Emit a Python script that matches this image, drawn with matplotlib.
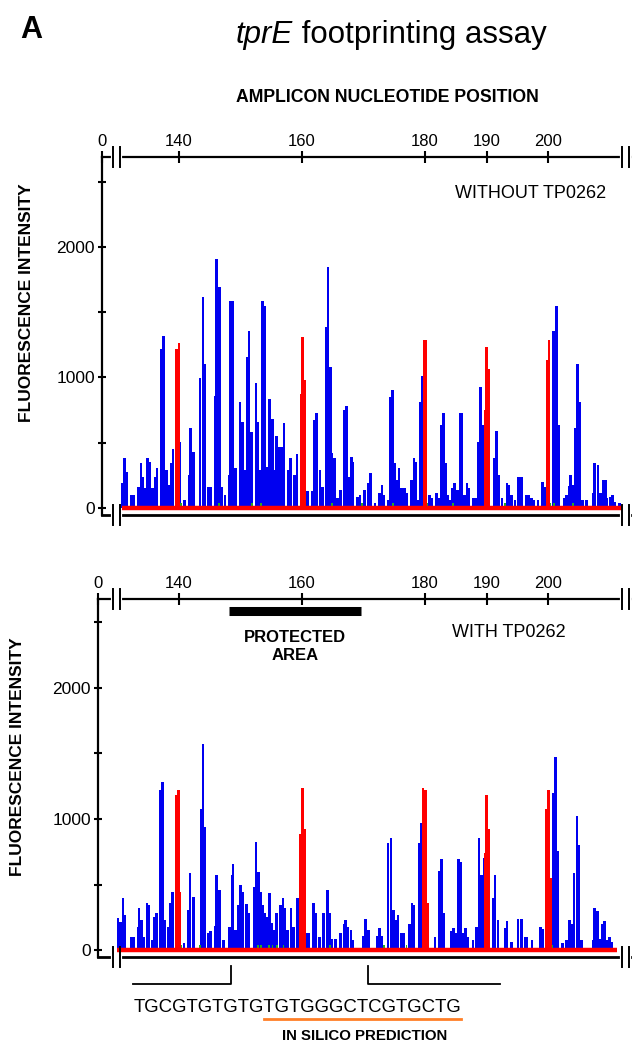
import matplotlib.pyplot as plt
import matplotlib.transforms as mtransforms

plt.rcParams['font.family'] = ['Liberation Sans', 'DejaVu Sans']

# ---- data ----
# positions in nucleotides, heights in fluorescence units
p1_blue_pos = [130.8, 131.1, 131.5, 132.3, 132.7, 133.4, 133.8, 134.1, 134.5, 134.9,
               135.2, 135.7, 136.1, 136.4, 137.1, 137.5, 138.0, 138.4, 138.7, 139.0,
               140.1, 140.9, 141.6, 141.9, 142.4, 143.4, 143.9, 144.2, 144.7, 145.1,
               145.9, 146.1, 146.6, 147.0, 147.5, 148.1, 148.4, 148.8, 149.2, 149.9,
               150.3, 150.7, 151.1, 151.4, 151.8, 152.5, 152.8, 153.2, 153.6, 154.0,
               154.4, 154.7, 155.2, 155.5, 155.9, 156.3, 156.7, 157.1, 157.7, 158.1,
               158.8, 159.2, 160.9, 161.6, 162.0, 162.4, 162.9, 163.3, 163.9, 164.2,
               164.6, 164.9, 165.3, 165.8, 166.3, 166.8, 167.2, 167.6, 168.0, 168.3,
               169.0, 169.4, 170.2, 170.7, 171.1, 171.9, 172.6, 173.0, 173.3, 174.0,
               174.4, 174.7, 175.1, 175.5, 175.8, 176.2, 176.7, 177.1, 177.8, 178.2,
               178.5, 178.9, 179.2, 179.6, 180.7, 181.1, 181.9, 182.3, 182.6, 183.0,
               183.3, 183.7, 184.1, 184.5, 184.8, 185.3, 185.7, 186.0, 186.4, 186.8,
               187.1, 187.9, 188.3, 188.7, 189.0, 189.4, 189.8, 190.4, 191.2, 191.6,
               192.0, 192.5, 193.3, 193.6, 194.1, 194.6, 195.2, 195.7, 196.4, 196.8,
               197.3, 197.7, 198.4, 199.1, 199.5, 200.0, 200.9, 201.1, 201.4, 201.8,
               202.6, 203.0, 203.5, 203.7, 204.1, 204.5, 204.8, 205.2, 205.6, 206.3,
               207.3, 207.6, 208.1, 208.5, 209.0, 209.3, 209.6, 210.1, 210.5, 210.9,
               211.6]
p1_blue_val = [189, 381, 278, 100, 100, 163, 342, 240, 150, 381,
               355, 150, 240, 304, 1216, 1318, 291, 176, 342, 450,
               508, 61, 253, 610, 432, 994, 1619, 1103, 163, 163,
               858, 1908, 1691, 163, 100, 253, 1586, 1586, 304, 815,
               662, 291, 1160, 1359, 585, 955, 662, 291, 1586, 1548,
               316, 833, 680, 291, 552, 470, 470, 654, 291, 381,
               253, 414, 133, 133, 674, 731, 291, 163, 1390, 1849,
               1083, 419, 381, 74, 138, 751, 782, 240, 393, 355,
               87, 100, 138, 189, 266, 36, 112, 176, 100, 61,
               853, 904, 342, 215, 304, 150, 150, 112, 215, 381,
               355, 61, 815, 1011, 100, 74, 112, 74, 636, 731,
               342, 100, 61, 150, 189, 138, 731, 731, 100, 189,
               150, 74, 74, 508, 930, 636, 751, 300, 381, 593,
               253, 74, 189, 176, 100, 61, 235, 235, 100, 100,
               74, 61, 61, 202, 163, 400, 1359, 1359, 1548, 636,
               74, 100, 168, 253, 176, 610, 1103, 815, 61, 61,
               112, 342, 330, 112, 215, 215, 74, 87, 100, 49,
               36]
p1_red_pos = [139.6, 140.0, 159.8, 160.1, 160.4, 179.9, 180.2, 189.8, 190.0, 190.4, 199.8, 200.2]
p1_red_val = [1216, 1267, 874, 1313, 981, 1287, 1287, 751, 1236, 1063, 1134, 1287]
p1_green_pos = [139.8, 140.3, 146.5, 151.9, 153.4, 160.2, 164.9, 169.7, 174.8,
                180.1, 180.4, 184.5, 190.1, 193.0, 200.3, 201.0, 204.0]

p2_blue_pos = [130.1, 130.5, 130.9, 131.2, 132.2, 132.6, 133.3, 133.5, 133.9, 134.2,
               134.8, 135.1, 135.6, 136.0, 136.3, 137.0, 137.3, 137.7, 138.2, 138.6,
               138.9, 140.0, 140.8, 141.5, 141.8, 142.4, 143.6, 143.9, 144.2, 144.7,
               145.1, 145.9, 146.1, 146.6, 147.2, 148.2, 148.6, 148.8, 149.2, 149.6,
               150.0, 150.3, 151.0, 151.4, 152.2, 152.5, 152.9, 153.3, 153.6, 154.0,
               154.3, 154.7, 155.1, 155.4, 155.9, 156.5, 156.9, 157.2, 157.6, 158.2,
               158.6, 159.3, 160.8, 161.1, 161.9, 162.2, 162.8, 163.5, 164.1, 164.5,
               164.9, 165.4, 166.3, 166.8, 167.1, 167.5, 168.0, 168.3, 170.0, 170.3,
               170.8, 172.3, 172.6, 172.9, 174.0, 174.5, 174.9, 175.2, 175.6, 176.2,
               176.6, 177.5, 177.9, 178.2, 179.1, 179.4, 179.7, 181.6, 182.3, 182.7,
               183.1, 184.2, 184.6, 185.0, 185.4, 185.8, 186.2, 186.6, 187.0, 187.8,
               188.4, 188.8, 189.2, 189.7, 191.1, 191.4, 191.9, 193.0, 193.3, 194.1,
               195.1, 195.7, 196.3, 196.6, 197.4, 198.8, 199.2, 199.8, 200.8, 201.0,
               201.2, 201.6, 202.4, 203.0, 203.5, 203.9, 204.2, 204.7, 205.0, 205.4,
               207.3, 207.6, 208.0, 208.5, 208.8, 209.2, 209.5, 210.0, 210.4]
p2_blue_val = [242, 216, 394, 267, 97, 97, 178, 318, 229, 102,
               356, 344, 76, 254, 280, 1221, 1285, 229, 178, 356,
               445, 356, 56, 305, 585, 407, 1074, 1573, 936, 132,
               148, 183, 573, 458, 76, 178, 573, 656, 153, 344,
               496, 445, 351, 280, 483, 827, 598, 445, 344, 280,
               254, 433, 204, 153, 280, 344, 394, 318, 153, 318,
               178, 394, 127, 127, 356, 280, 97, 280, 458, 280,
               81, 81, 127, 198, 229, 173, 153, 76, 107, 234,
               153, 107, 165, 107, 819, 852, 305, 229, 267, 127,
               127, 198, 356, 344, 814, 972, 483, 97, 606, 692,
               280, 148, 165, 127, 692, 674, 127, 165, 102, 76,
               178, 852, 573, 700, 394, 573, 229, 165, 224, 64,
               234, 234, 97, 97, 76, 178, 158, 500, 1201, 1201,
               1471, 758, 56, 76, 229, 198, 585, 1025, 802, 76,
               76, 318, 300, 81, 198, 224, 76, 97, 64]
p2_red_pos = [139.5, 139.9, 140.2, 159.7, 160.1, 160.4, 179.7, 180.1, 180.5,
              189.8, 190.0, 190.4, 199.7, 200.1, 200.4]
p2_red_val = [1183, 1221, 445, 885, 1234, 921, 1234, 1221, 356,
              743, 1183, 921, 1074, 1221, 550]
p2_green_pos = [139.9, 140.3, 143.4, 152.8, 153.4, 154.6, 155.2, 156.0, 157.0,
                160.3, 164.5, 173.3, 177.0, 180.3, 190.1, 190.3, 200.3, 200.6]

p1_span = [130.7, 212.0]
p2_span = [129.9, 211.2]

top_ticks = [140, 160, 180, 190, 200]
top_labels = ['0', '140', '160', '180', '190', '200']
protected_area = [148.1, 169.6]
left_bracket = [132.5, 148.5]
right_bracket = [170.7, 192.2]
sequence = 'TGCGTGTGTGTGTGGGCTCGTGCTG'
prediction_span = [153.8, 185.9]

# ---- figure ----
W, H = 642, 1050
fig = plt.figure(figsize=(W / 100, H / 100), dpi=100)


def box(left, top, right, bottom):
    return [left / W, 1 - bottom / H, (right - left) / W, (bottom - top) / H]


def panel(rect, xlim, ylim, bpos, bval, rpos, rval, gpos, span):
    ax = fig.add_axes(rect)
    ax.set_xlim(xlim)
    ax.set_ylim(ylim)
    ax.bar(bpos, bval, width=0.42, color='#0000f0', linewidth=0, zorder=2)
    ax.bar(gpos, [40] * len(gpos), width=0.3, color='#22aa22', linewidth=0, zorder=2.2)
    ax.bar(rpos, rval, width=0.4, color='#ff0000', linewidth=0, zorder=2.4)
    ax.plot(span, [0, 0], color='#ff0000', lw=3.2, solid_capstyle='butt', zorder=2.6)

    ax.spines['right'].set_visible(False)
    for s in ('left', 'top', 'bottom'):
        ax.spines[s].set_linewidth(1.6)
    ax.spines['bottom'].set_linewidth(2.0)
    ax.xaxis.tick_top()
    ax.set_xticks([xlim[0]] + top_ticks)
    ax.set_xticklabels(top_labels)
    ax.tick_params(axis='x', direction='inout', length=9, width=1.5, labelsize=12, pad=1)
    ax.set_yticks([0, 1000, 2000])
    ax.set_yticks([500, 1500, 2500], minor=True)
    ax.tick_params(axis='y', which='both', direction='inout', length=6, width=1.5,
                   labelsize=12.5, pad=2)

    # broken-axis marks on the top and bottom lines
    trans = mtransforms.blended_transform_factory(ax.transData, ax.transAxes)
    d = 10 / (rect[3] * H)
    x_per_px = (xlim[1] - xlim[0]) / (rect[2] * W)
    for x0 in (129.27, 212.03):
        x1 = x0 + 7 * x_per_px
        for yy in (0, 1):
            ax.plot([x0, x1], [yy, yy], color='white', lw=3, transform=trans,
                    clip_on=False, zorder=4)
            for xb in (x0, x1):
                ax.plot([xb, xb], [yy - d, yy + d], color='black', lw=1.4,
                        transform=trans, clip_on=False, zorder=5)
    return ax


ax1 = panel(box(102, 157, 630, 515), (127.48, 213.33), (-54, 2690),
            p1_blue_pos, p1_blue_val, p1_red_pos, p1_red_val, p1_green_pos, p1_span)
ax2 = panel(box(98, 599, 630, 957), (126.83, 213.33), (-53, 2679),
            p2_blue_pos, p2_blue_val, p2_red_pos, p2_red_val, p2_green_pos, p2_span)

ax1.text(197.1, 2414, 'WITHOUT TP0262', fontsize=13, ha='center', va='center')
ax2.text(193.7, 2420, 'WITH TP0262', fontsize=13, ha='center', va='center')

# protected area
ax2.plot(protected_area, [2588, 2588], color='black', lw=6.5, solid_capstyle='butt')
ax2.text(158.9, 2318, 'PROTECTED\nAREA', fontsize=12, fontweight='bold',
         ha='center', va='center', linespacing=1.3)

# in silico prediction annotation below panel 2
ax2.plot([left_bracket[0], left_bracket[1], left_bracket[1]], [-260, -260, -122],
         color='black', lw=1.3, clip_on=False)
ax2.plot([right_bracket[0], right_bracket[0], right_bracket[1]], [-122, -260, -260],
         color='black', lw=1.3, clip_on=False)
ax2.text(159.3, -435, sequence, fontsize=13.4, ha='center', va='center')
ax2.plot(prediction_span, [-527, -527], color='#ff7f27', lw=2, clip_on=False)
ax2.text(170.2, -656, 'IN SILICO PREDICTION', fontsize=10.8, fontweight='bold',
         ha='center', va='center')

# figure-level text
ov = fig.add_axes([0, 0, 1, 1], zorder=-1)
ov.set_axis_off()
fig.text(20 / W, 1 - 30 / H, 'A', fontsize=22, fontweight='bold', ha='left', va='center')
t1 = fig.text(236 / W, 1 - 35 / H, 'tprE', fontsize=22.5, style='italic',
              ha='left', va='center')
ov.annotate(' footprinting assay', xy=(1, 0), xycoords=t1, fontsize=22.5,
            ha='left', va='bottom')
fig.text(387 / W, 1 - 98 / H, 'AMPLICON NUCLEOTIDE POSITION', fontsize=12.7,
         fontweight='bold', ha='center', va='center')
fig.text(27 / W, 1 - 303 / H, 'FLUORESCENCE INTENSITY', rotation=90, fontsize=12.5,
         fontweight='bold', ha='center', va='center')
fig.text(18 / W, 1 - 757 / H, 'FLUORESCENCE INTENSITY', rotation=90, fontsize=12.5,
         fontweight='bold', ha='center', va='center')

fig.savefig('out.png', dpi=100)
